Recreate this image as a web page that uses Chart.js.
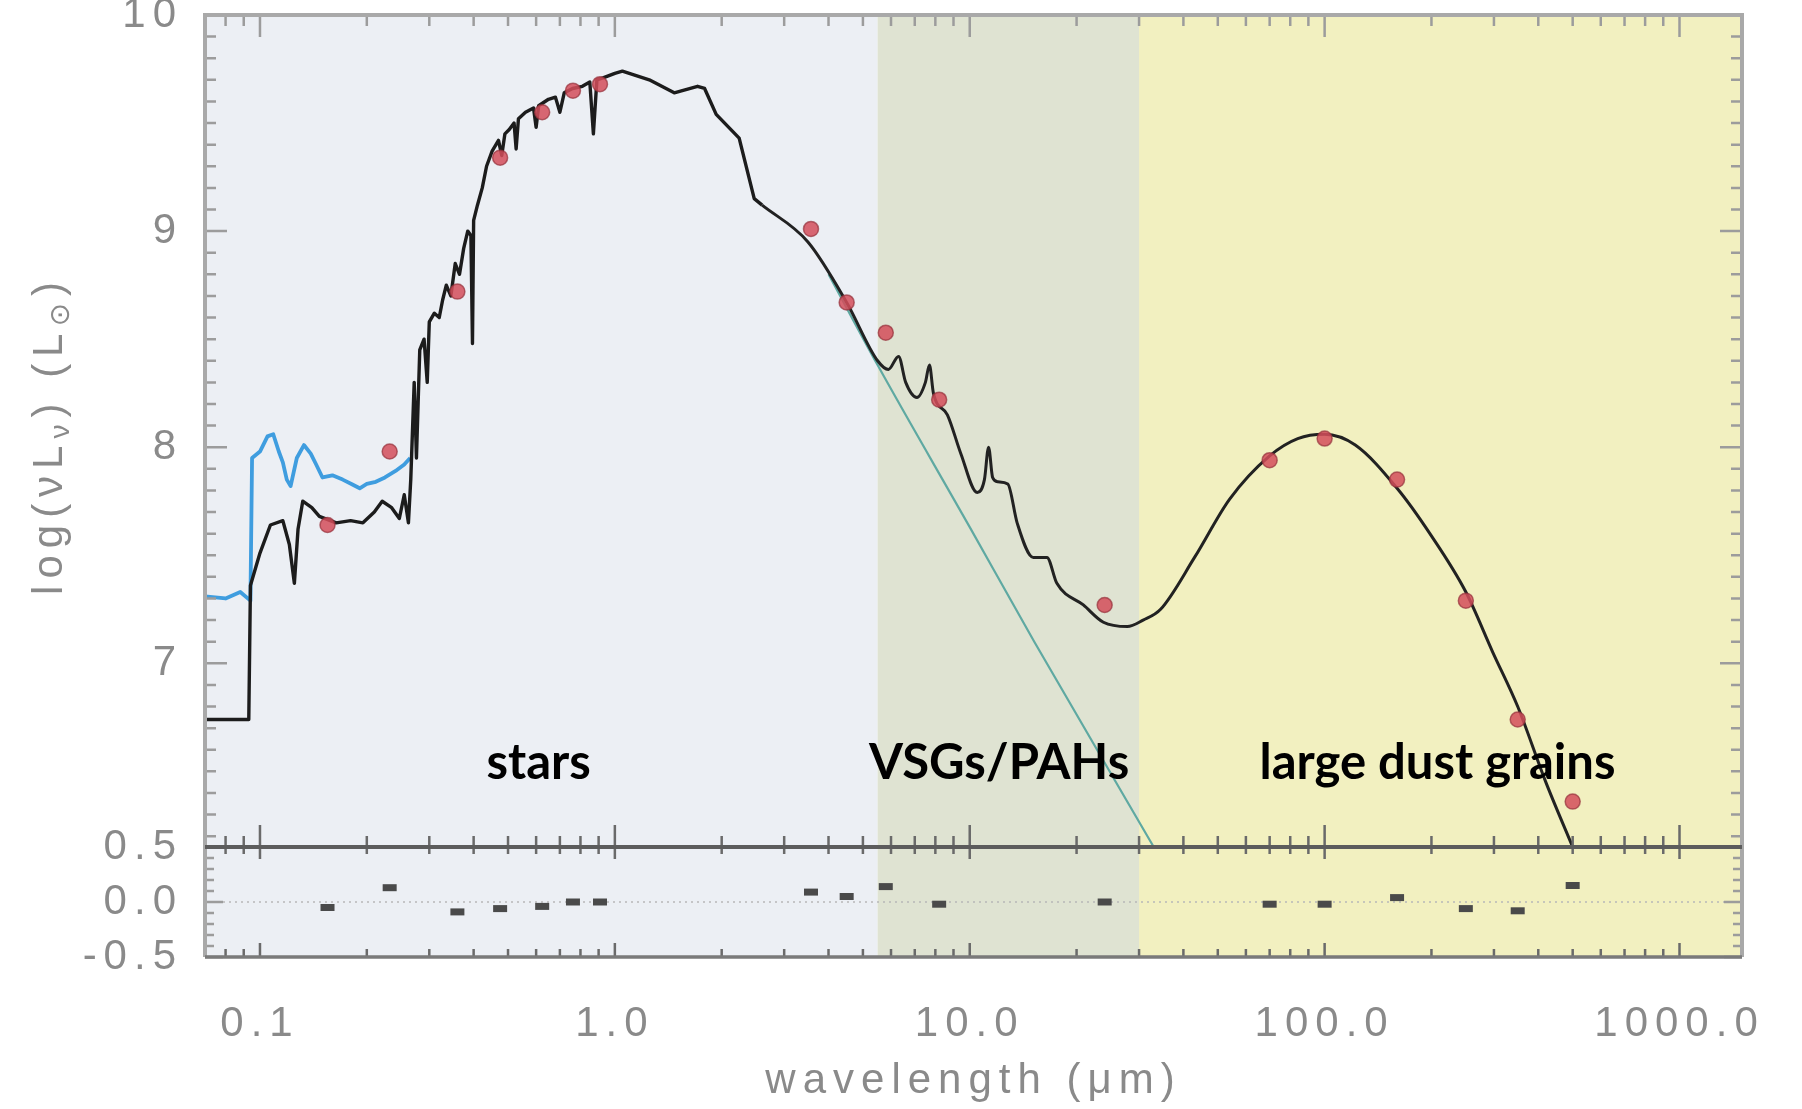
<!DOCTYPE html>
<html><head><meta charset="utf-8">
<script src="https://cdn.jsdelivr.net/npm/chart.js@4.4.1/dist/chart.umd.min.js"></script>
<style>html,body{margin:0;padding:0;background:#fff}canvas{display:block}</style>
</head><body>
<canvas id="c" width="1802" height="1109" style="width:1802px;height:1109px"></canvas>
<script>
// ---------------- data ----------------
// full model SED (black)
const modelLam = [0.07,0.093,0.094,0.100,0.107,0.116,0.121,0.125,0.128,0.132,0.140,0.147,0.164,0.180,0.195,0.210,0.221,0.235,0.247,0.255,0.262,0.266,0.272,0.276,0.282,0.290,0.296,0.300,0.310,0.320,0.327,0.335,0.345,0.355,0.365,0.375,0.385,0.393,0.397,0.400,0.410,0.423,0.435,0.451,0.470,0.480,0.490,0.504,0.520,0.527,0.535,0.560,0.590,0.600,0.610,0.650,0.680,0.700,0.720,0.760,0.810,0.850,0.870,0.890,0.930,1.00,1.05,1.25,1.47,1.71,1.79,1.93,2.24,2.47,2.60,3.50,4.50,5.50,5.90,6.30,6.60,7.10,7.50,7.70,7.90,8.65,9.44,10.5,11.0,11.3,11.6,12.0,12.8,13.6,15.1,16.5,17.6,20.9,23.8,27.8,30.8,34.5,43,54,70,84,100,122,160,198,250,298,350,420,500];
const modelVal = [6.74,6.74,7.36,7.51,7.64,7.66,7.55,7.37,7.62,7.75,7.72,7.68,7.65,7.66,7.65,7.70,7.75,7.72,7.67,7.78,7.65,7.85,8.30,7.95,8.45,8.50,8.30,8.58,8.62,8.60,8.68,8.75,8.70,8.85,8.80,8.92,9.00,8.98,8.48,9.05,9.12,9.20,9.30,9.37,9.42,9.35,9.45,9.47,9.50,9.38,9.52,9.55,9.57,9.48,9.58,9.61,9.62,9.55,9.64,9.66,9.67,9.69,9.45,9.70,9.71,9.73,9.74,9.70,9.64,9.67,9.66,9.54,9.43,9.15,9.12,8.95,8.67,8.40,8.36,8.42,8.30,8.23,8.30,8.38,8.25,8.15,7.97,7.79,7.85,8.00,7.86,7.84,7.83,7.65,7.49,7.49,7.37,7.27,7.19,7.17,7.20,7.25,7.49,7.76,7.96,8.04,8.06,8.01,7.81,7.60,7.33,7.05,6.80,6.45,6.15];
// wavelength where the model switches from the jagged stellar spectrum to the smooth IR part
const smoothFrom = 2.6;
// unattenuated UV stellar emission (blue)
const intrinsicLam = [0.07,0.08,0.088,0.094,0.095,0.100,0.105,0.109,0.113,0.116,0.119,0.122,0.127,0.133,0.139,0.144,0.150,0.160,0.171,0.181,0.191,0.200,0.212,0.225,0.241,0.255,0.265];
const intrinsicVal = [7.31,7.30,7.33,7.29,7.95,7.98,8.05,8.06,7.98,7.93,7.85,7.82,7.95,8.01,7.97,7.92,7.86,7.87,7.85,7.83,7.81,7.83,7.84,7.86,7.89,7.92,7.95];
// stellar component in the infrared (teal)
const stellarLam = [4.0,5.5,10,15.2,33];
const stellarVal = [8.80,8.38,7.63,7.10,6.15];
// observed photometry (red) and residuals
const obsLam = [0.155,0.232,0.36,0.475,0.624,0.762,0.908,3.57,4.5,5.8,8.2,24,70,100,160,250,350,500];
const obsVal = [7.64,7.98,8.72,9.34,9.55,9.65,9.68,9.01,8.67,8.53,8.22,7.27,7.94,8.04,7.85,7.29,6.74,6.36];
const residVal = [-0.05,0.13,-0.09,-0.06,-0.04,0.0,0.0,0.09,0.05,0.14,-0.02,0.0,-0.02,-0.02,0.04,-0.06,-0.08,0.15];
// shaded regions and their labels
const regionEdges = [0.07,5.5,30,1500];
const regionColors = ['#eceff4','#dfe3d2','#f2f0c0'];
const regionNames = ['stars','VSGs/PAHs','large dust grains'];
const regionLabelLam = [0.61,12.1,208];
const regionLabelVal = 6.465;
// axes
const xRange = [0.07,1500];
const yRange = [6.15,10];
const resRange = [-0.5,0.5];

const pts = (xs, ys) => xs.map((x, i) => ({x: x, y: ys[i]}));
const roughPart = pts(modelLam, modelVal).filter(p => p.x <= smoothFrom);
const smoothPart = pts(modelLam, modelVal).filter(p => p.x >= smoothFrom);
const GRAY = '#8a8a8a';
const AXFONT = {family: "'Liberation Sans', Arial, sans-serif", size: 42};

const spacingPlugin = {
  id: 'spacing',
  beforeUpdate(chart) { chart.ctx.letterSpacing = '7px'; },
  beforeDraw(chart) { chart.ctx.letterSpacing = '7px'; }
};

const regionsPlugin = {
  id: 'regions',
  beforeDatasetsDraw(chart) {
    const {ctx, chartArea: ca, scales} = chart;
    const xs = scales.x;
    ctx.save();
    for (let i = 0; i < regionColors.length; i++) {
      const a = Math.max(ca.left, xs.getPixelForValue(regionEdges[i]));
      const b = Math.min(ca.right, xs.getPixelForValue(regionEdges[i + 1]));
      ctx.fillStyle = regionColors[i];
      ctx.fillRect(a, ca.top, b - a, ca.bottom - ca.top);
    }
    const yl = scales.yr;
    const y0 = yl.getPixelForValue(0);
    ctx.strokeStyle = '#b8b8b8';
    ctx.lineWidth = 1.5;
    ctx.setLineDash([2, 4]);
    ctx.beginPath(); ctx.moveTo(ca.left, y0); ctx.lineTo(ca.right, y0); ctx.stroke();
    ctx.restore();
  }
};

const framePlugin = {
  id: 'frame',
  afterDatasetsDraw(chart) {
    const {ctx, chartArea: ca, scales} = chart;
    const xs = scales.x, yu = scales.y, yl = scales.yr;
    const div = yl.top;
    ctx.save();
    ctx.setLineDash([]);
    xs.ticks.forEach(t => {
      const v = t.value;
      const l = Math.log10(v);
      const major = Math.abs(l - Math.round(l)) < 1e-9;
      const px = xs.getPixelForValue(v);
      ctx.lineWidth = 2.5;
      ctx.strokeStyle = '#9c9c9c';
      ctx.beginPath();
      ctx.moveTo(px, ca.top); ctx.lineTo(px, ca.top + (major ? 22 : 11));
      ctx.stroke();
      ctx.strokeStyle = '#6a6a6a';
      ctx.beginPath();
      ctx.moveTo(px, div - (major ? 22 : 11)); ctx.lineTo(px, div + (major ? 12 : 7));
      ctx.moveTo(px, ca.bottom); ctx.lineTo(px, ca.bottom - (major ? 14 : 8));
      ctx.stroke();
    });
    ctx.strokeStyle = '#9c9c9c';
    ctx.lineWidth = 2.5;
    yu.ticks.forEach(t => {
      const v = t.value;
      const major = Math.abs(v - Math.round(v)) < 1e-6;
      const py = yu.getPixelForValue(v);
      const L = major ? 22 : 11;
      ctx.beginPath();
      ctx.moveTo(ca.left, py); ctx.lineTo(ca.left + L, py);
      ctx.moveTo(ca.right, py); ctx.lineTo(ca.right - L, py);
      ctx.stroke();
    });
    yl.ticks.forEach(t => {
      const v = t.value;
      const major = Math.abs(v * 2 - Math.round(v * 2)) < 1e-6;
      const py = yl.getPixelForValue(v);
      const L = major ? 18 : 9;
      ctx.beginPath();
      ctx.moveTo(ca.left, py); ctx.lineTo(ca.left + L, py);
      ctx.moveTo(ca.right, py); ctx.lineTo(ca.right - L, py);
      ctx.stroke();
    });
    ctx.strokeStyle = '#a9a9a9';
    ctx.lineWidth = 4;
    ctx.beginPath();
    ctx.moveTo(ca.left, ca.bottom); ctx.lineTo(ca.left, ca.top);
    ctx.lineTo(ca.right, ca.top); ctx.lineTo(ca.right, ca.bottom);
    ctx.stroke();
    ctx.strokeStyle = '#5c5c5c';
    ctx.lineWidth = 4;
    ctx.beginPath(); ctx.moveTo(ca.left, div); ctx.lineTo(ca.right, div); ctx.stroke();
    ctx.strokeStyle = '#7a7a7a';
    ctx.lineWidth = 3.5;
    ctx.beginPath(); ctx.moveTo(ca.left, ca.bottom); ctx.lineTo(ca.right, ca.bottom); ctx.stroke();
    ctx.restore();
  },
  afterDraw(chart) {
    const {ctx, scales} = chart;
    const xs = scales.x, yu = scales.y;
    ctx.save();
    ctx.letterSpacing = '7px';
    ctx.fillStyle = GRAY;
    ctx.textBaseline = 'middle';
    ctx.textAlign = 'left';
    const parts = [['log(\u03bdL', 0], ['\u03bd', 1], [') (L', 0], ['\u2299', 1], [')', 0]];
    const fMain = "42px 'Liberation Sans', Arial, sans-serif";
    const fSub = "28px 'Liberation Sans', 'DejaVu Sans', sans-serif";
    let total = 0;
    parts.forEach(p => { ctx.font = p[1] ? fSub : fMain; total += ctx.measureText(p[0]).width; });
    ctx.translate(50, (yu.top + yu.bottom) / 2 + 4);
    ctx.rotate(-Math.PI / 2);
    let x = -total / 2;
    parts.forEach(p => {
      ctx.font = p[1] ? fSub : fMain;
      ctx.fillText(p[0], x, p[1] ? 11 : 0);
      x += ctx.measureText(p[0]).width;
    });
    ctx.restore();
    ctx.save();
    ctx.letterSpacing = '0px';
    ctx.fillStyle = '#000';
    ctx.font = "bold 49px Lato, 'Open Sans', sans-serif";
    ctx.textAlign = 'center';
    ctx.textBaseline = 'alphabetic';
    regionNames.forEach((n, i) => {
      ctx.fillText(n, xs.getPixelForValue(regionLabelLam[i]), yu.getPixelForValue(regionLabelVal));
    });
    ctx.restore();
  }
};

new Chart(document.getElementById('c'), {
  type: 'scatter',
  data: {
    datasets: [
      {label: 'model (UV-optical)', data: roughPart, yAxisID: 'y', showLine: true, tension: 0,
       borderColor: '#1c1c1c', borderWidth: 3.4, borderJoinStyle: 'round', pointRadius: 0, order: 1},
      {label: 'model (IR)', data: smoothPart, yAxisID: 'y', showLine: true, cubicInterpolationMode: 'monotone',
       borderColor: '#222222', borderWidth: 3, pointRadius: 0, order: 1},
      {label: 'intrinsic', data: pts(intrinsicLam, intrinsicVal), yAxisID: 'y', showLine: true, tension: 0,
       borderColor: '#3f9ddf', borderWidth: 3.8, borderJoinStyle: 'round', pointRadius: 0, order: 2},
      {label: 'stellar', data: pts(stellarLam, stellarVal), yAxisID: 'y', showLine: true, cubicInterpolationMode: 'monotone',
       borderColor: '#5fa9a2', borderWidth: 2.2, pointRadius: 0, order: 3},
      {label: 'observed', data: pts(obsLam, obsVal), yAxisID: 'y', showLine: false,
       pointRadius: 7.5, pointBackgroundColor: 'rgba(212,78,90,0.85)', pointBorderColor: 'rgba(150,50,60,0.7)',
       pointBorderWidth: 1.5, order: 0},
      {label: 'residual', data: pts(obsLam, residVal), yAxisID: 'yr', showLine: false,
       pointStyle: 'line', pointRadius: 7, pointBorderWidth: 7, pointBorderColor: '#4a4a4a', order: 0}
    ]
  },
  options: {
    responsive: false,
    animation: false,
    events: [],
    layout: {padding: {left: 0, right: 60, top: 15, bottom: 0}},
    plugins: {legend: {display: false}, tooltip: {enabled: false}},
    scales: {
      x: {
        type: 'logarithmic', position: 'bottom', min: xRange[0], max: xRange[1],
        grid: {display: false}, border: {display: false},
        afterBuildTicks: s => {
          const t = [];
          for (let e = -2; e <= 3; e++) for (let m = 1; m <= 9; m++) {
            const v = +(m * Math.pow(10, e)).toPrecision(6);
            if (v >= s.min - 1e-12 && v <= s.max) t.push({value: v});
          }
          s.ticks = t;
        },
        afterFit: s => { s.height = 152; s.paddingLeft = 0; s.paddingRight = 0; },
        ticks: {
          autoSkip: false, maxRotation: 0, minRotation: 0, padding: 34, color: GRAY, font: AXFONT,
          callback: v => { const l = Math.log10(v); return Math.abs(l - Math.round(l)) < 1e-9 ? Number(v).toFixed(1) : ''; }
        },
        title: {display: true, text: 'wavelength (\u03bcm)', color: GRAY, font: AXFONT, padding: {top: 0, bottom: 2}}
      },
      yr: {
        type: 'linear', position: 'left', stack: 'panels', stackWeight: 110,
        min: resRange[0], max: resRange[1],
        grid: {display: false}, border: {display: false},
        afterBuildTicks: s => { const t = []; for (let k = -5; k <= 5; k++) t.push({value: k / 10}); s.ticks = t; },
        afterFit: s => { s.width = 205; s.paddingTop = 0; s.paddingBottom = 0; },
        ticks: {
          autoSkip: false, padding: 14, color: GRAY, font: AXFONT,
          callback: v => (Math.abs(v * 2 - Math.round(v * 2)) < 1e-6 ? Number(v).toFixed(1) : '')
        }
      },
      y: {
        type: 'linear', position: 'left', stack: 'panels', stackWeight: 832,
        min: yRange[0], max: yRange[1],
        grid: {display: false}, border: {display: false},
        afterBuildTicks: s => { const t = []; for (let k = 62; k <= 100; k++) t.push({value: k / 10}); s.ticks = t; },
        afterFit: s => { s.width = 205; s.paddingTop = 0; s.paddingBottom = 0; },
        ticks: {
          autoSkip: false, padding: 14, color: GRAY, font: AXFONT,
          callback: v => (Math.abs(v - Math.round(v)) < 1e-6 ? String(Math.round(v)) : '')
        }
      }
    }
  },
  plugins: [spacingPlugin, regionsPlugin, framePlugin]
});
</script>
</body></html>
